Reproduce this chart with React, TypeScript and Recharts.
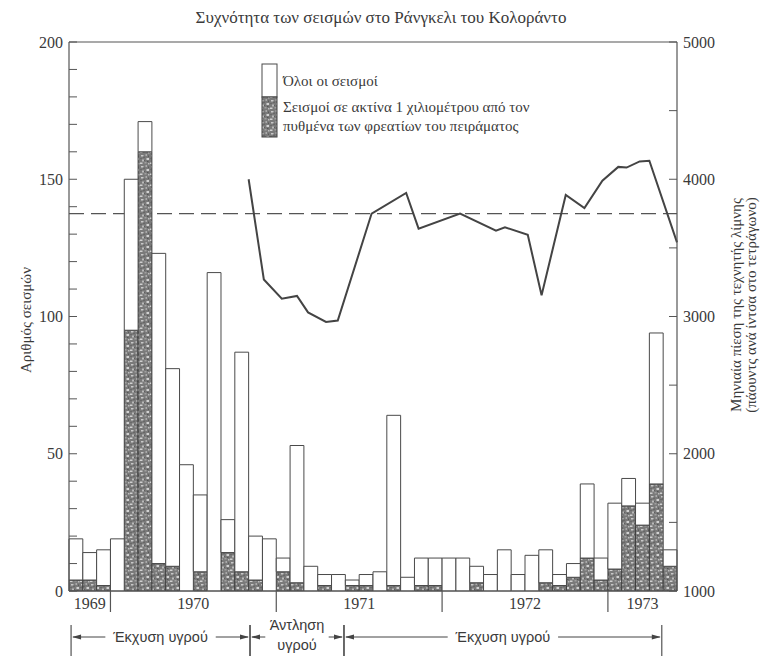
import React from 'react';
import { ComposedChart, Bar, Line, XAxis, YAxis, ReferenceLine, CartesianGrid } from 'recharts';

// Monthly earthquake counts, Oct 1969 – May 1973
const months = [
  '1969-10', '1969-11', '1969-12',
  '1970-01', '1970-02', '1970-03', '1970-04', '1970-05', '1970-06',
  '1970-07', '1970-08', '1970-09', '1970-10', '1970-11', '1970-12',
  '1971-01', '1971-02', '1971-03', '1971-04', '1971-05', '1971-06',
  '1971-07', '1971-08', '1971-09', '1971-10', '1971-11', '1971-12',
  '1972-01', '1972-02', '1972-03', '1972-04', '1972-05', '1972-06',
  '1972-07', '1972-08', '1972-09', '1972-10', '1972-11', '1972-12',
  '1973-01', '1973-02', '1973-03', '1973-04', '1973-05',
];

// All earthquakes per month
const allQuakes = [
  19, 14, 15,
  19, 150, 171, 123, 81, 46, 35, 116, 26, 87, 20, 19,
  12, 53, 9, 6, 6, 4, 6, 7, 64, 5, 12, 12,
  12, 12, 9, 6, 15, 6, 13, 15, 6, 10, 39, 12,
  32, 41, 32, 94, 15,
];

// Earthquakes within 1 km of the bottom of the experiment wells
const nearQuakes = [
  4, 4, 2,
  0, 95, 160, 10, 9, 0, 7, 0, 14, 7, 4, 0,
  7, 3, 0, 2, 0, 2, 2, 0, 2, 0, 2, 2,
  0, 0, 3, 0, 0, 0, 0, 3, 2, 5, 12, 4,
  8, 31, 24, 39, 9,
];

// Reservoir pressure readings (position in months from Oct 1969, psi)
const pressureMonth = [
  13.0, 14.1, 15.4, 16.5, 17.3, 18.6, 19.45, 21.9, 24.4, 25.3, 28.3, 30.9,
  31.55, 33.2, 34.2, 35.95, 37.3, 38.6, 39.75, 40.35, 41.3, 42.0, 44.0,
];
const pressurePsi = [
  4000, 3270, 3130, 3150, 3030, 2960, 2970, 3750, 3900, 3640, 3750, 3625,
  3650, 3595, 3155, 3885, 3790, 3990, 4090, 4085, 4130, 4135, 3540,
];

// Critical pressure level (dashed, drawn behind the bars)
const criticalPsi = 3750;

const yearLabels = ['1969', '1970', '1971', '1972', '1973'];
const yearMid = [1.5, 9, 21, 33, 41.5];
const yearBreaks = [3, 15, 27, 39];

const countTicks = [0, 10, 20, 30, 40, 50, 60, 70, 80, 90, 100, 110, 120, 130, 140, 150, 160, 170, 180, 190, 200];
const countLabels = [0, 50, 100, 150, 200];
const psiTicks = [1000, 1500, 2000, 2500, 3000, 3500, 4000, 4500, 5000];
const psiLabels = [1000, 2000, 3000, 4000, 5000];

// Operating phases of the wells (months from Oct 1969)
const phaseText = [['Έκχυση υγρού'], ['Άντληση', 'υγρού'], ['Έκχυση υγρού']];
const phaseStart = [0.15, 13.1, 19.9];
const phaseEnd = [13.1, 19.9, 42.9];

const tableRows = months.map((m, i) => ({ month: m, all: allQuakes[i], near: nearQuakes[i] }));
const pressureRows = pressureMonth.map((t, i) => ({ t, psi: pressurePsi[i] }));

const W = 763;
const H = 657;
const PLOT_L = 69;
const PLOT_R = 677;
const PLOT_T = 42;
const PLOT_B = 591;
const AXIS_W = 55;
const XAXIS_H = 30;
const BAND = (PLOT_R - PLOT_L) / months.length;

const FONT = '"Liberation Serif", "DejaVu Serif", serif';
const SANS = '"Liberation Sans", Arial, sans-serif';
const INK = '#3a3a3a';
const FRAME = '#555';

const CountTick = (props: any) => {
  const { x, y, payload } = props;
  if (!countLabels.includes(payload.value)) return <g />;
  return (
    <text x={x} y={y} dy="0.35em" textAnchor="end" fontFamily={FONT} fontSize={16} fill={INK}>
      {payload.value}
    </text>
  );
};

const PsiTick = (props: any) => {
  const { x, y, payload } = props;
  if (!psiLabels.includes(payload.value)) return <g />;
  return (
    <text x={x} y={y} dy="0.35em" textAnchor="start" fontFamily={FONT} fontSize={16} fill={INK}>
      {payload.value}
    </text>
  );
};

const YearTick = (props: any) => {
  const { x, y, payload } = props;
  const v = payload.value;
  if (yearBreaks.includes(v)) {
    return <line x1={x} x2={x} y1={y} y2={y + 21} stroke={FRAME} strokeWidth={1.2} />;
  }
  const k = yearMid.indexOf(v);
  if (k < 0) return <g />;
  return (
    <text x={x} y={y + 18} textAnchor="middle" fontFamily={FONT} fontSize={16} fill={INK}>
      {yearLabels[k]}
    </text>
  );
};

// One phase: end bars, arrowed line broken around its caption
const PhaseMark = (props: any) => {
  const { x1, x2, y1, lines } = props;
  const row = y1 + 46;
  const cx = (x1 + x2) / 2;
  const longest = Math.max(...lines.map((s: string) => s.length));
  const half = longest * 4.1 + (lines.length > 1 ? 3 : 6);
  const c = '#444';
  return (
    <g>
      <line x1={x1} x2={x1} y1={y1 + 34} y2={y1 + 65} stroke={c} strokeWidth={1.1} />
      <line x1={x2} x2={x2} y1={y1 + 34} y2={y1 + 65} stroke={c} strokeWidth={1.1} />
      <line x1={x1 + 2} x2={cx - half} y1={row} y2={row} stroke={c} strokeWidth={1} />
      <line x1={cx + half} x2={x2 - 2} y1={row} y2={row} stroke={c} strokeWidth={1} />
      <polygon points={`${x1 + 1},${row} ${x1 + 10},${row - 2.5} ${x1 + 10},${row + 2.5}`} fill={c} />
      <polygon points={`${x2 - 1},${row} ${x2 - 10},${row - 2.5} ${x2 - 10},${row + 2.5}`} fill={c} />
      {lines.length === 1 ? (
        <text x={cx} y={row + 5} textAnchor="middle" fontFamily={SANS} fontSize={14.5} fill={INK}>
          {lines[0]}
        </text>
      ) : (
        <>
          <text x={cx} y={row - 7} textAnchor="middle" fontFamily={SANS} fontSize={14.5} fill={INK}>
            {lines[0]}
          </text>
          <text x={cx} y={row + 13} textAnchor="middle" fontFamily={SANS} fontSize={14.5} fill={INK}>
            {lines[1]}
          </text>
        </>
      )}
    </g>
  );
};

const StippleDefs = () => (
  <defs>
    <pattern id="stipple" width="10" height="11" patternUnits="userSpaceOnUse">
      <rect width="10" height="11" fill="#7a7a7a" />
      <rect x="1" y="1" width="2.5" height="1.5" fill="#c8c8c8" />
      <rect x="5.5" y="0" width="1.5" height="2" fill="#aaaaaa" />
      <rect x="6.5" y="4" width="2.5" height="2" fill="#d2d2d2" />
      <rect x="2" y="5.5" width="2" height="2" fill="#b8b8b8" />
      <rect x="0" y="8.5" width="2.5" height="1.5" fill="#d0d0d0" />
      <rect x="4.5" y="8" width="2" height="1.5" fill="#a0a0a0" />
      <rect x="8" y="9" width="1.5" height="1.5" fill="#bcbcbc" />
      <rect x="3.5" y="2.5" width="1" height="1.5" fill="#555" />
      <rect x="8" y="1.5" width="1" height="1.5" fill="#5a5a5a" />
      <rect x="0.5" y="4" width="1" height="1" fill="#585858" />
      <rect x="7" y="7" width="1.5" height="1" fill="#555" />
      <rect x="4" y="6" width="1" height="1" fill="#5e5e5e" />
    </pattern>
  </defs>
);

export default function App() {
  return (
    <div style={{ position: 'relative', width: W, height: H, background: '#fff' }}>
      <style>{'body{margin:0;background:#fff}'}</style>
      <ComposedChart
        width={W}
        height={H}
        data={tableRows}
        margin={{ top: PLOT_T, left: PLOT_L - AXIS_W, right: W - PLOT_R - AXIS_W, bottom: H - PLOT_B - XAXIS_H }}
        barCategoryGap={0}
        barGap={0}
      >
        <CartesianGrid
          xAxisId="t"
          yAxisId="right"
          vertical={false}
          horizontalValues={[criticalPsi]}
          stroke="#555"
          strokeWidth={1.2}
          strokeDasharray="15 7"
        />
        <XAxis
          xAxisId="t"
          dataKey="t"
          type="number"
          domain={[0, months.length]}
          ticks={[...yearMid, ...yearBreaks].sort((a, b) => a - b)}
          interval={0}
          tick={<YearTick />}
          tickLine={false}
          tickSize={0}
          tickMargin={0}
          height={XAXIS_H}
          axisLine={{ stroke: FRAME, strokeWidth: 1.2 }}
        />
        <XAxis xAxisId="m" dataKey="month" hide height={0} />
        <YAxis
          yAxisId="left"
          domain={[0, 200]}
          ticks={countTicks}
          interval={0}
          width={AXIS_W}
          tickSize={-8}
          tickMargin={14}
          tick={<CountTick />}
          tickLine={{ stroke: FRAME, strokeWidth: 1 }}
          axisLine={{ stroke: FRAME, strokeWidth: 1.2 }}
        />
        <YAxis
          yAxisId="right"
          orientation="right"
          domain={[1000, 5000]}
          ticks={psiTicks}
          interval={0}
          width={AXIS_W}
          tickSize={-8}
          tickMargin={14}
          tick={<PsiTick />}
          tickLine={{ stroke: FRAME, strokeWidth: 1 }}
          axisLine={{ stroke: FRAME, strokeWidth: 1.2 }}
        />
        <ReferenceLine xAxisId="t" yAxisId="left" y={200} stroke={FRAME} strokeWidth={1.2} />
        <Bar
          xAxisId="m"
          yAxisId="left"
          dataKey="near"
          stackId="q"
          barSize={BAND - 0.01}
          fill="url(#stipple)"
          stroke="#404040"
          strokeWidth={1}
          isAnimationActive={false}
        />
        <Bar
          xAxisId="m"
          yAxisId="left"
          dataKey={(d: any) => d.all - d.near}
          stackId="q"
          barSize={BAND - 0.01}
          fill="#fff"
          stroke="#4a4a4a"
          strokeWidth={1}
          isAnimationActive={false}
        />
        <Line
          xAxisId="t"
          yAxisId="right"
          data={pressureRows}
          dataKey="psi"
          type="linear"
          stroke="#444"
          strokeWidth={2}
          dot={false}
          isAnimationActive={false}
        />
        {phaseText.map((lines, i) => (
          <ReferenceLine
            key={i}
            xAxisId="t"
            yAxisId="left"
            segment={[{ x: phaseStart[i], y: 0 }, { x: phaseEnd[i], y: 0 }]}
            shape={(p: any) => <PhaseMark {...p} lines={lines} />}
          />
        ))}
      </ComposedChart>
      <svg
        width={W}
        height={H}
        style={{ position: 'absolute', left: 0, top: 0, pointerEvents: 'none' }}
      >
        <StippleDefs />
        <text x={381} y={23} textAnchor="middle" fontFamily={FONT} fontSize={17} fill={INK}>
          Συχνότητα των σεισμών στο Ράνγκελι του Κολοράντο
        </text>
        <text
          transform="translate(31,320) rotate(-90)"
          textAnchor="middle"
          fontFamily={FONT}
          fontSize={15}
          fill={INK}
        >
          Αριθμός σεισμών
        </text>
        <text
          transform="translate(741,305) rotate(-90)"
          textAnchor="middle"
          fontFamily={FONT}
          fontSize={15}
          fill={INK}
        >
          Μηνιαία πίεση της τεχνητής λίμνης
        </text>
        <text
          transform="translate(756,305) rotate(-90)"
          textAnchor="middle"
          fontFamily={FONT}
          fontSize={15}
          fill={INK}
        >
          (πάουντς ανά ίντσα στο τετράγωνο)
        </text>
        <rect x={262} y={64} width={15} height={33} fill="#fff" stroke="#4a4a4a" strokeWidth={1} />
        <rect x={262} y={97} width={15} height={40} fill="url(#stipple)" stroke="#404040" strokeWidth={1} />
        <text x={283} y={86} fontFamily={FONT} fontSize={15} fill={INK}>
          Όλοι οι σεισμοί
        </text>
        <text x={283} y={112} fontFamily={FONT} fontSize={15} fill={INK}>
          Σεισμοί σε ακτίνα 1 χιλιομέτρου από τον
        </text>
        <text x={283} y={131} fontFamily={FONT} fontSize={15} fill={INK}>
          πυθμένα των φρεατίων του πειράματος
        </text>
      </svg>
    </div>
  );
}
